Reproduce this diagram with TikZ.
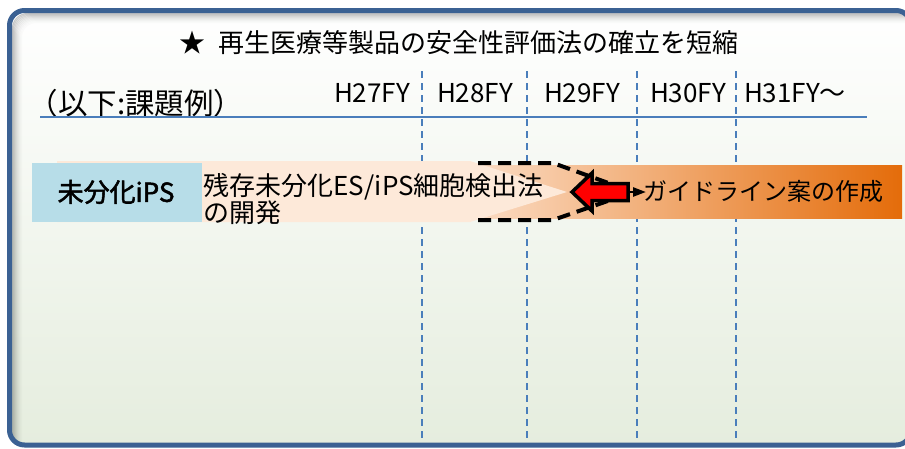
\documentclass[tikz,border=0pt]{standalone}
\usepackage{fontspec}
\newfontfamily\jp[AutoFakeBold=2]{Noto Sans CJK JP}
\usetikzlibrary{arrows.meta}
\definecolor{frameblue}{HTML}{3B6193}
\definecolor{bgbottom}{HTML}{E5EDDE}
\definecolor{lineblue}{HTML}{4A7EBB}
\definecolor{boxblue}{HTML}{B7DDE8}
\definecolor{peach}{HTML}{FDE9D9}
\definecolor{orangeL}{HTML}{FBDDC6}
\definecolor{orangeR}{HTML}{E46C0A}
\tikzset{
  txt/.style={inner sep=0pt, text=black},
  yearlbl/.style={txt, font=\jp\fontsize{26}{26}\selectfont},
  vdash/.style={draw=lineblue, line width=1.5pt, dash pattern=on 7pt off 5pt},
  blackdash/.style={draw=black, line width=4pt, dash pattern=on 13pt off 7pt},
}
\begin{document}
\begin{tikzpicture}[x=1pt,y=-1pt,font=\jp]
\useasboundingbox (0,0) rectangle (905,448);
% background with gradient
\fill[top color=white, bottom color=bgbottom, rounded corners=15pt] (9.5,10.5) rectangle (911,445);
% inner shadow
\begin{scope}
\clip[rounded corners=15pt] (9.5,10.5) rectangle (911,445);
\foreach \i/\o in {3/0.22,4/0.19,5/0.16,6/0.13,7/0.10,8/0.08,9/0.06,10/0.04,11/0.025,12/0.015}{
  \draw[black, opacity=\o, line width=1.1pt, rounded corners=15pt] (9.5+\i,460) -- (9.5+\i,10.5+\i) -- (925,10.5+\i);
}
\end{scope}
\draw[frameblue, line width=5pt, rounded corners=15pt] (9.5,10.5) rectangle (911,445);

% title and headings
\node[txt, font=\jp\fontsize{26}{26}\selectfont] (title) at (459,42.5) {★\hspace{14pt}再生医療等製品の安全性評価法の確立を短縮};
\node[txt, font=\jp\fontsize{29.5}{29.5}\selectfont] (kadai) at (136,103) {（以下:課題例）};
\node[yearlbl] (y27) at (372,93) {H27FY};
\node[yearlbl] (y28) at (475,93) {H28FY};
\node[yearlbl] (y29) at (582,93) {H29FY};
\node[yearlbl] (y30) at (688,93) {H30FY};
\node[yearlbl] (y31) at (795,93) {H31FY～};

% horizontal rule
\coordinate (hl) at (40,117);
\coordinate (hr) at (867,117);
\draw[lineblue, line width=1.5pt] (hl) -- (hr);

% vertical dashed lines
\foreach \x/\n in {422/a,527/b,637/c,736/d}{
  \coordinate (t\n) at (\x,71);
  \coordinate (b\n) at (\x,442);
  \draw[vdash] (t\n) -- (b\n);
}

% orange bar
\fill[left color=orangeL, right color=orangeR] (470,165) rectangle (902,218);
% peach chevron
\fill[peach] (57,161) -- (470,161) -- (567,192) -- (470,222) -- (57,222) -- cycle;
% blue box
\fill[boxblue] (32,163) rectangle (202,222);

% dashed outline
\draw[blackdash] (478,163) -- (553,163) -- (625,189);
\draw[blackdash] (478,220) -- (553,220) -- (625,195);

% connector with arrowhead
\coordinate (redtail) at (628,192);
\coordinate (tri) at (646,192);
\draw[black, line width=2.5pt, -{Triangle[length=13pt,width=9pt]}] (redtail) -- (tri);
% red block arrow
\filldraw[fill=red, draw=black, line width=3.5pt, line join=miter]
  (572,192) -- (592,173) -- (592,183.5) -- (628,183.5) -- (628,200.5) -- (592,200.5) -- (592,211) -- cycle;

% texts in the row
\node[txt, font=\jp\fontsize{26}{26}\selectfont\bfseries] (ips) at (116,192) {未分化iPS};
\node[txt, anchor=west, align=left, font=\jp\fontsize{26}{22}\selectfont] (kenshutsu) at (203,199) {残存未分化ES/iPS細胞検出法\\の開発};
\node[txt, font=\jp\fontsize{24}{24}\selectfont] (guide) at (763,191) {ガイドライン案の作成};
\end{tikzpicture}
\end{document}
